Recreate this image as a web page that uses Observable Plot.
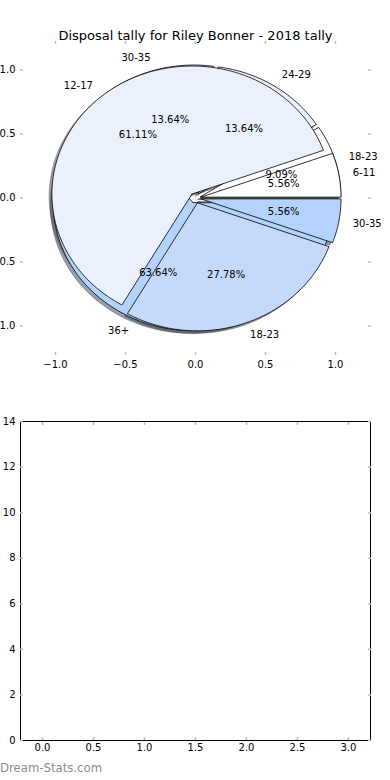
<!DOCTYPE html>
<html><head><meta charset="utf-8">
<script src="https://cdn.jsdelivr.net/npm/d3@7"></script>
<script src="https://cdn.jsdelivr.net/npm/@observablehq/plot@0.6"></script>
<style>
html,body{margin:0;padding:0;background:#fff;width:390px;height:780px;overflow:hidden;}
#wrap{position:relative;width:390px;height:780px;}
#caption{position:absolute;left:0;top:761px;font:11.7px "DejaVu Sans",sans-serif;color:#8c8c8c;white-space:nowrap;}
svg{display:block;}
</style></head><body>
<div id="wrap"><div id="top"></div><div id="bottom"></div><div id="caption"></div></div>
<script>
// ---- data ----
const title = "Disposal tally for Riley Bonner - 2018 tally";
const caption = "Dream-Stats.com";
// first pie drawn (underneath)
const pieBLabels = ["18-23", "24-29", "30-35", "36+"];
const pieBValues = [2, 3, 3, 14];
// second pie drawn (on top)
const pieALabels = ["6-11", "12-17", "18-23", "30-35"];
const pieAValues = [1, 11, 5, 1];
const sliceColors = ["#ffffff", "#eaf1fd", "#c5d9fb", "#b3d3fd"];
const pieTicks = [-1, -0.5, 0, 0.5, 1];
const barXTicks = [0, 0.5, 1, 1.5, 2, 2.5, 3];
const barYTicks = [0, 2, 4, 6, 8, 10, 12, 14];

// ---- pie geometry (matplotlib-like) ----
const explode = 0.04, shadowOff = 0.02, labelDistance = 1.1, pctDistance = 0.6;
function wedges(labels, values) {
  const total = d3.sum(values);
  let a = 0;
  return values.map((v, i) => {
    const a0 = a, a1 = a + 360 * v / total; a = a1;
    const mid = (a0 + a1) / 2 * Math.PI / 180;
    const cx = explode * Math.cos(mid), cy = explode * Math.sin(mid);
    const pts = [[cx, cy]];
    const n = Math.max(2, Math.ceil(a1 - a0));
    for (let k = 0; k <= n; k++) {
      const t = (a0 + (a1 - a0) * k / n) * Math.PI / 180;
      pts.push([cx + Math.cos(t), cy + Math.sin(t)]);
    }
    pts.push([cx, cy]);
    const c = d3.rgb(sliceColors[i % sliceColors.length]);
    return {
      label: labels[i], pct: (100 * v / total).toFixed(2) + "%",
      color: c.formatHex(),
      shadow: d3.rgb(c.r * 0.3, c.g * 0.3, c.b * 0.3).formatHex(),
      pts,
      lx: cx + labelDistance * Math.cos(mid), ly: cy + labelDistance * Math.sin(mid),
      px: cx + pctDistance * Math.cos(mid), py: cy + pctDistance * Math.sin(mid)
    };
  });
}
const wB = wedges(pieBLabels, pieBValues);
const wA = wedges(pieALabels, pieAValues);
const all = [...wB, ...wA];

const fmt1 = d3.format(".1f");
const tickGray = "#bdbdbd";
const font = {fontFamily: "'DejaVu Sans', sans-serif", fontSize: "10px", color: "black", background: "white"};

const pieMarks = [];
for (const w of all) {
  pieMarks.push(Plot.line(w.pts, {x: d => d[0] - shadowOff, y: d => d[1] - shadowOff, fill: w.shadow, fillOpacity: 0.5, stroke: w.shadow, strokeOpacity: 0.5, strokeWidth: 0.8, curve: "linear"}));
}
for (const w of all) {
  pieMarks.push(Plot.line(w.pts, {x: d => d[0], y: d => d[1], fill: w.color, stroke: "black", strokeWidth: 0.8, strokeLinejoin: "miter", curve: "linear"}));
}
for (const ws of [wB, wA]) {
  pieMarks.push(Plot.text(ws.filter(w => w.lx > 0), {x: "lx", y: "ly", text: "label", textAnchor: "start", fill: "black"}));
  pieMarks.push(Plot.text(ws.filter(w => w.lx <= 0), {x: "lx", y: "ly", text: "label", textAnchor: "end", fill: "black"}));
  pieMarks.push(Plot.text(ws, {x: "px", y: "py", text: "pct", textAnchor: "middle", fill: "black"}));
}

const pie = Plot.plot({
  width: 390, height: 390,
  marginLeft: 20, marginRight: 20, marginTop: 40, marginBottom: 35,
  x: {domain: [-1.25, 1.25], label: null},
  y: {domain: [-1.23, 1.23], label: null},
  style: font,
  marks: [
    ...pieMarks,
    Plot.axisX(pieTicks, {anchor: "bottom", tickSize: 0, tickPadding: 5, tickFormat: fmt1, label: null}),
    Plot.axisX(pieTicks, {anchor: "bottom", tickSize: -3, fill: "none", stroke: tickGray, strokeWidth: 1.5, label: null}),
    Plot.axisX(pieTicks, {anchor: "top", tickSize: -3, fill: "none", stroke: tickGray, strokeWidth: 1.5, label: null}),
    Plot.axisY(pieTicks, {anchor: "left", tickSize: 0, tickPadding: 5, tickFormat: fmt1, label: null}),
    Plot.axisY(pieTicks, {anchor: "left", tickSize: -3, fill: "none", stroke: tickGray, strokeWidth: 1.5, label: null}),
    Plot.axisY(pieTicks, {anchor: "right", tickSize: -3, fill: "none", stroke: tickGray, strokeWidth: 1.5, label: null}),
    Plot.text([title], {frameAnchor: "top", dy: -10, text: d => d, fontSize: 13, fill: "black"})
  ]
});
document.getElementById("top").appendChild(pie);

const bar = Plot.plot({
  width: 390, height: 390,
  marginLeft: 20, marginRight: 20, marginTop: 31, marginBottom: 40,
  x: {domain: [-0.216, 3.216], label: null},
  y: {domain: [0, 14], label: null},
  style: font,
  marks: [
    Plot.frame({stroke: "black", strokeWidth: 1}),
    Plot.axisX(barXTicks, {anchor: "bottom", tickSize: 0, tickPadding: 3, tickFormat: fmt1, label: null}),
    Plot.axisX(barXTicks, {anchor: "bottom", tickSize: -3, fill: "none", stroke: tickGray, strokeWidth: 1.5, label: null}),
    Plot.axisX(barXTicks, {anchor: "top", tickSize: -3, fill: "none", stroke: tickGray, strokeWidth: 1.5, label: null}),
    Plot.axisY(barYTicks, {anchor: "left", tickSize: 0, tickPadding: 5, tickFormat: d3.format("d"), label: null}),
    Plot.axisY(barYTicks, {anchor: "left", tickSize: -3, fill: "none", stroke: tickGray, strokeWidth: 1.5, label: null}),
    Plot.axisY(barYTicks, {anchor: "right", tickSize: -3, fill: "none", stroke: tickGray, strokeWidth: 1.5, label: null})
  ]
});
document.getElementById("bottom").appendChild(bar);
document.getElementById("caption").textContent = caption;
</script>
</body></html>
